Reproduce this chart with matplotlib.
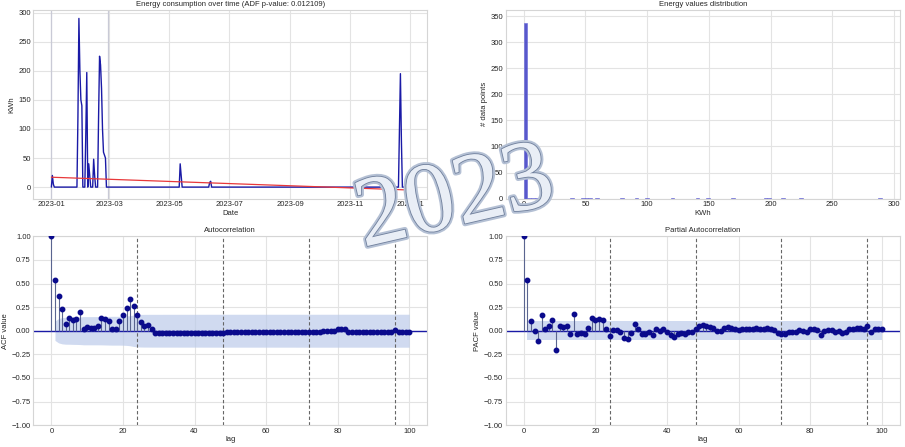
import numpy as np
import pandas as pd
import matplotlib
matplotlib.use("Agg")
import matplotlib.pyplot as plt
import matplotlib.patheffects as pe
import seaborn as sns

sns.set_style("whitegrid")
plt.rcParams['font.family'] = ['Liberation Sans', 'DejaVu Sans']
plt.rcParams['font.size'] = 5.5

# daily energy values (KWh), days not listed are 0
dates = pd.date_range("2023-01-01", "2023-12-31", freq="D")
spikes = {
    "2023-01-02": 20, "2023-01-03": 5,
    "2023-01-28": 120, "2023-01-29": 290, "2023-01-30": 200, "2023-01-31": 150, "2023-02-01": 140,
    "2023-02-05": 90, "2023-02-06": 197,
    "2023-02-08": 40, "2023-02-09": 20,
    "2023-02-13": 48, "2023-02-14": 20,
    "2023-02-18": 120, "2023-02-19": 225, "2023-02-20": 210, "2023-02-21": 170,
    "2023-02-22": 100, "2023-02-23": 60, "2023-02-24": 55, "2023-02-25": 50,
    "2023-05-12": 40, "2023-05-13": 20,
    "2023-06-11": 8, "2023-06-12": 10,
    "2023-12-21": 100, "2023-12-22": 195, "2023-12-23": 80,
}
energy = pd.Series(0.0, index=dates)
for d, v in spikes.items():
    energy[pd.Timestamp(d)] = v

trend_start = 17.0
trend_end = -5.0
adf_p = 0.012109
marked_days = ["2023-01-01", "2023-02-28"]

acf_vals = [1.0, 0.535, 0.366, 0.225, 0.067, 0.13, 0.11, 0.12, 0.20, 0.02,
            0.035, 0.03, 0.025, 0.05, 0.13, 0.12, 0.105, 0.02, 0.02, 0.105,
            0.17, 0.245, 0.34, 0.26, 0.17, 0.095, 0.055, 0.06, 0.02] + \
           [-0.02] * 20 + [-0.01] * 27 + [0.0] * 4 + [0.02, 0.02, 0.02] + \
           [-0.01] * 13 + [0.01] + [-0.01] * 4

pacf_vals = [1.0, 0.535, 0.105, 0.0, -0.11, 0.165, 0.018, 0.05, 0.115, -0.205,
             0.05, 0.035, 0.05, -0.04, 0.175, -0.03, -0.02, -0.03, 0.03, 0.135,
             0.115, 0.12, 0.11, 0.015, -0.06, 0.005, 0.005, -0.015, -0.075, -0.085,
             -0.02, 0.07, 0.02, -0.04, -0.04, -0.01, -0.045, 0.015, 0.0, 0.018,
             -0.01, -0.05, -0.07, -0.03, -0.02, -0.035, -0.01, -0.015, 0.02, 0.05,
             0.06, 0.055, 0.04, 0.03, -0.005, -0.005, 0.025, 0.035, 0.025, 0.015,
             0.005, 0.015, 0.015, 0.015, 0.02, 0.025, 0.02, 0.02, 0.025, 0.02,
             0.01, -0.02, -0.035, -0.04, -0.015, -0.01, -0.01, 0.005, -0.005, -0.01,
             0.015, 0.018, 0.01, -0.045, -0.005, 0.01, 0.01, -0.015, 0.0, -0.02,
             -0.01, 0.02, 0.015, 0.03, 0.03, 0.015, 0.045, -0.01, 0.02, 0.015, 0.015]
season_lags = [24, 48, 72, 96]
n_obs = len(energy)

fig, axes = plt.subplots(2, 2, figsize=(9.05, 4.47), dpi=100)
ax1, ax2, ax3, ax4 = axes.ravel()

for ax in axes.ravel():
    ax.tick_params(length=0, pad=2)
    ax.grid(color='#e3e3e3', linewidth=0.8)
    for s in ax.spines.values():
        s.set_color('#d5d5d5')
        s.set_linewidth(0.8)

# time series
for d in marked_days:
    ax1.axvline(pd.Timestamp(d), color='#c9cad6', linewidth=0.9, zorder=1)
ax1.plot(energy.index, energy.values, color='#1a1aa6', linewidth=1.0, zorder=3)
ax1.plot([dates[0], dates[-1]], [trend_start, trend_end], color='#e8383a', linewidth=0.9, zorder=4)
ax1.set_title(f"Energy consumption over time (ADF p-value: {adf_p:.6f})", fontsize=5.5, pad=3)
ax1.set_xlabel("Date", labelpad=1)
ax1.set_ylabel("KWh", labelpad=2)
ax1.xaxis.set_major_formatter(matplotlib.dates.DateFormatter("%Y-%m"))
ax1.xaxis.set_major_locator(matplotlib.dates.MonthLocator(bymonth=[1, 3, 5, 7, 9, 11]))

# histogram
ax2.hist(energy.values, bins=100, color='#3b3bc4', alpha=0.85, edgecolor='#6a6ad8', linewidth=0.5)
ax2.set_title("Energy values distribution", fontsize=5.5, pad=3)
ax2.set_xlabel("KWh", labelpad=1)
ax2.set_ylabel("# data points", labelpad=2)
ax2.set_ylim(0, 362)

# acf / pacf
def corr_plot(ax, vals, band, title, ylab):
    lags = np.arange(len(vals))
    vals = np.asarray(vals)
    ax.fill_between(lags[1:], -band[1:], band[1:], color='#bccbea', alpha=0.7, linewidth=0, zorder=1)
    ax.axhline(0, color='#1a1aa6', linewidth=1.0, zorder=2)
    ax.vlines(lags, 0, vals, color='#5a6590', linewidth=0.8, zorder=3)
    ax.plot(lags, vals, 'o', color='#0a0a8c', markersize=3.2, zorder=4)
    for l in season_lags:
        ax.axvline(l, color='#666666', linestyle='--', linewidth=0.8, dashes=(3, 2), zorder=2)
    ax.set_ylim(-1, 1)
    ax.set_xlim(-5, 105)
    ax.set_title(title, fontsize=5.5, pad=3)
    ax.set_xlabel("lag", labelpad=1)
    ax.set_ylabel(ylab, labelpad=2)

acf_arr = np.asarray(acf_vals)
acf_band = np.zeros(len(acf_arr))
for k in range(1, len(acf_arr)):
    acf_band[k] = 1.96 * np.sqrt((1 + 2 * np.sum(acf_arr[1:k] ** 2)) / n_obs)
pacf_band = np.full(len(pacf_vals), 1.96 / np.sqrt(n_obs))

corr_plot(ax3, acf_vals, acf_band, "Autocorrelation", "ACF value")
corr_plot(ax4, pacf_vals, pacf_band, "Partial Autocorrelation", "PACF value")

fig.subplots_adjust(left=0.037, right=0.994, top=0.978, bottom=0.049, wspace=0.2, hspace=0.2)

# "2023" emblem in the middle
fig.text(0.503, 0.55, "2023", fontsize=72, family='Liberation Serif', color='#e9eef6',
         rotation=13, ha='center', va='center', zorder=10,
         path_effects=[pe.withStroke(linewidth=4, foreground='#b4c0d4'),
                       pe.Stroke(linewidth=1.2, foreground='#6f7f9c'), pe.Normal()])

fig.savefig("out.png", dpi=100)
